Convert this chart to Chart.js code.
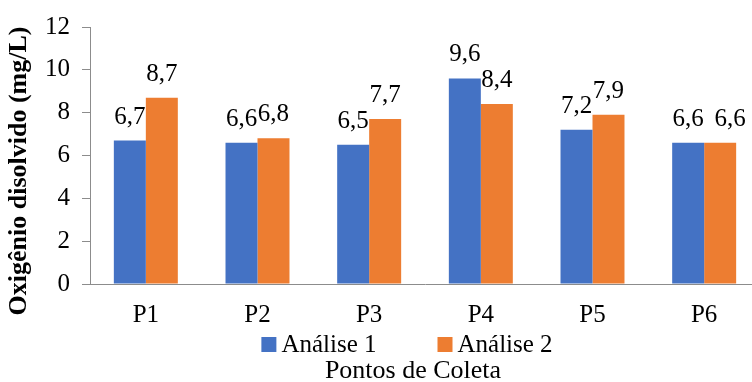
<!DOCTYPE html>
<html>
<head>
<meta charset="utf-8">
<script src="https://cdn.jsdelivr.net/npm/chart.js@4.4.1/dist/chart.umd.min.js"></script>
<style>
  html, body { margin: 0; padding: 0; background: #fff; overflow: hidden; }
  #wrap { width: 770px; height: 382px; }
</style>
</head>
<body>
<div id="wrap"><canvas id="chart" width="770" height="382"></canvas></div>
<script>
// Dissolved oxygen per sampling point, two analysis campaigns
const pontos = ['P1', 'P2', 'P3', 'P4', 'P5', 'P6'];
const analise1 = [6.7, 6.6, 6.5, 9.6, 7.2, 6.6];
const analise2 = [8.7, 6.8, 7.7, 8.4, 7.9, 6.6];
const serieNomes = ['An\u00e1lise 1', 'An\u00e1lise 2'];
const yTicks = { min: 0, max: 12, step: 2 };
const tituloY = 'Oxig\u00eanio disolvido (mg/L)';
const tituloX = 'Pontos de Coleta';

const AZUL = '#4472C4';
const LARANJA = '#ED7D31';
const CINZA = '#8C8C8C';
const SERIF = "'Liberation Serif', 'Times New Roman', serif";

Chart.defaults.font.family = SERIF;
Chart.defaults.font.size = 25;
Chart.defaults.color = '#000';

const fmt = v => v.toFixed(1).replace('.', ',');

// Value labels above every bar; when both bars of a point share the same
// value, the second label is nudged right so the two do not collide.
const rotulosValores = {
  id: 'rotulosValores',
  afterDatasetsDraw(chart) {
    const ctx = chart.ctx;
    const sets = chart.data.datasets;
    ctx.save();
    ctx.fillStyle = '#000';
    ctx.font = '25px ' + SERIF;
    ctx.textAlign = 'center';
    ctx.textBaseline = 'alphabetic';
    sets.forEach((ds, i) => {
      chart.getDatasetMeta(i).data.forEach((bar, j) => {
        let dx = 0;
        if (i > 0 && sets[i - 1].data[j] === ds.data[j]) dx = 10;
        ctx.fillText(fmt(ds.data[j]), bar.x + dx, bar.y - 17);
      });
    });
    ctx.restore();
  }
};

// Legend row (square swatch + series name) between tick labels and x title
const legenda = {
  id: 'legenda',
  afterDraw(chart) {
    const ctx = chart.ctx;
    const box = 15, gapTexto = 5, gapItens = 61, centro = 407, base = 352;
    ctx.save();
    ctx.font = '25px ' + SERIF;
    ctx.textAlign = 'left';
    ctx.textBaseline = 'alphabetic';
    const itens = chart.data.datasets.map(ds => ({
      texto: ds.label.normalize('NFC'), cor: ds.backgroundColor
    }));
    itens.forEach(it => { it.w = ctx.measureText(it.texto).width; });
    const total = itens.reduce((s, it) => s + box + gapTexto + it.w, 0) + gapItens * (itens.length - 1);
    let x = centro - total / 2;
    itens.forEach(it => {
      ctx.fillStyle = it.cor;
      ctx.fillRect(x, base - box, box, box);
      ctx.fillStyle = '#000';
      ctx.fillText(it.texto, x + box + gapTexto, base);
      x += box + gapTexto + it.w + gapItens;
    });
    ctx.restore();
  }
};

// Axis titles
const titulosEixos = {
  id: 'titulosEixos',
  afterDraw(chart) {
    const ctx = chart.ctx;
    ctx.save();
    ctx.fillStyle = '#000';
    ctx.textAlign = 'center';
    ctx.textBaseline = 'middle';
    ctx.font = 'bold 26px ' + SERIF;
    ctx.translate(19, 171);
    ctx.rotate(-Math.PI / 2);
    ctx.fillText(tituloY, 0, 0);
    ctx.restore();

    ctx.save();
    ctx.fillStyle = '#000';
    ctx.textAlign = 'center';
    ctx.textBaseline = 'alphabetic';
    ctx.font = '26px ' + SERIF;
    ctx.fillText(tituloX, 413, 378);
    ctx.restore();
  }
};

new Chart(document.getElementById('chart'), {
  type: 'bar',
  data: {
    labels: pontos,
    datasets: [
      { label: serieNomes[0], data: analise1, backgroundColor: AZUL },
      { label: serieNomes[1], data: analise2, backgroundColor: LARANJA }
    ]
  },
  options: {
    responsive: false,
    animation: false,
    devicePixelRatio: 1,
    layout: { padding: { left: 0, right: 10, top: 17, bottom: 58 } },
    datasets: {
      bar: { categoryPercentage: 0.573, barPercentage: 1.0 }
    },
    plugins: {
      tooltip: { enabled: false },
      legend: { display: false }
    },
    scales: {
      x: {
        grid: { display: false },
        border: { display: true, color: CINZA, width: 1 },
        ticks: { color: '#000', font: { family: SERIF, size: 25 }, padding: 8 },
        afterFit(scale) { scale.height = 40; }
      },
      y: {
        min: yTicks.min,
        max: yTicks.max,
        ticks: { stepSize: yTicks.step, color: '#000', font: { family: SERIF, size: 25 }, padding: 12 },
        grid: { drawOnChartArea: false, drawTicks: true, tickLength: 8, color: CINZA },
        border: { display: true, color: CINZA, width: 1 },
        afterFit(scale) { scale.width = 90; }
      }
    }
  },
  plugins: [rotulosValores, legenda, titulosEixos]
});
</script>
</body>
</html>
